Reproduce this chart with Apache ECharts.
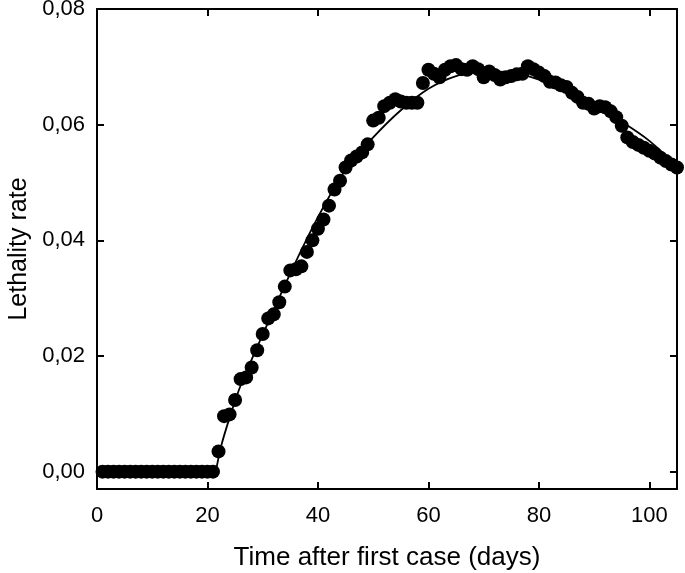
<!DOCTYPE html>
<html>
<head>
<meta charset="utf-8">
<script src="https://cdn.jsdelivr.net/npm/echarts@6/dist/echarts.min.js"></script>
<style>
html,body{margin:0;padding:0;background:#fff;}
#chart{width:685px;height:573px;}
</style>
</head>
<body>
<div id="chart"></div>
<script>
// Observed daily lethality rate (days 1..105)
const days = [];
for (let d = 1; d <= 105; d++) days.push(d);
const rates = [
  0,0,0,0,0,0,0,0,0,0,0,0,0,0,0,0,0,0,0,0,0,
  0.0035,0.0096,0.0099,0.0124,0.0160,0.0163,0.0180,0.0210,0.0238,
  0.0265,0.0272,0.0293,0.0320,0.0348,0.0350,0.0355,0.0380,0.0400,0.0420,
  0.0436,0.0460,0.0488,0.0503,0.0526,0.0538,0.0545,0.0552,0.0566,0.0607,
  0.0612,0.0632,0.0638,0.0644,0.0640,0.0638,0.0638,0.0638,0.0672,0.0695,
  0.0688,0.0682,0.0695,0.0701,0.0703,0.0696,0.0695,0.0701,0.0696,0.0682,
  0.0692,0.0686,0.0678,0.0682,0.0684,0.0687,0.0688,0.0701,0.0696,0.0690,
  0.0684,0.0674,0.0673,0.0668,0.0665,0.0655,0.0648,0.0638,0.0636,0.0628,
  0.0632,0.0630,0.0623,0.0613,0.0598,0.0578,0.0570,0.0565,0.0560,0.0555,
  0.0550,0.0543,0.0537,0.0531,0.0526
];
// Fitted curve
const fitDays   = [21.5, 22.5, 24, 26, 30, 35, 40, 45, 50, 55, 60, 65, 70, 75, 80, 85, 90, 95, 100, 105];
const fitValues = [0, 0.0045, 0.0093, 0.0149, 0.0237, 0.0343, 0.0440, 0.0522, 0.0578, 0.0625, 0.0662, 0.0684, 0.0692, 0.0690, 0.0678, 0.0658, 0.0633, 0.0605, 0.0572, 0.0528];
// Tick labels
const xTicks = [0, 20, 40, 60, 80, 100];
const yTicks = [0, 0.02, 0.04, 0.06, 0.08];

const FONT = 'Liberation Sans, Arial, sans-serif';
const lineStyle = {color: '#000', width: 2};
const chart = echarts.init(document.getElementById('chart'), null, {renderer: 'canvas'});
const baseX = {
  type: 'value', min: 0, max: 105,
  axisLine: {show: true, onZero: false, lineStyle},
  axisTick: {show: true, inside: true, length: 7, lineStyle, customValues: xTicks},
  splitLine: {show: false}
};
const baseY = {
  type: 'value', min: -0.003, max: 0.08,
  axisLine: {show: true, onZero: false, lineStyle},
  axisTick: {show: true, inside: true, length: 7, lineStyle, customValues: yTicks},
  splitLine: {show: false}
};
chart.setOption({
  animation: false,
  backgroundColor: '#fff',
  grid: {left: 97, right: 8, top: 9, bottom: 84, containLabel: false, outerBoundsMode: 'none'},
  xAxis: [
    Object.assign({}, baseX, {
      position: 'bottom',
      name: 'Time after first case (days)', nameLocation: 'middle', nameGap: 56,
      nameTextStyle: {fontFamily: FONT, fontSize: 26, color: '#000'},
      axisLabel: {show: true, customValues: xTicks, margin: 16, fontFamily: FONT, fontSize: 22, color: '#000'}
    }),
    Object.assign({}, baseX, {position: 'top', axisLabel: {show: false}})
  ],
  yAxis: [
    Object.assign({}, baseY, {
      position: 'left',
      name: 'Lethality rate', nameLocation: 'middle', nameGap: 64, nameRotate: 90,
      nameTextStyle: {fontFamily: FONT, fontSize: 25, color: '#000'},
      axisLabel: {show: true, customValues: yTicks, margin: 12, fontFamily: FONT, fontSize: 22, color: '#000',
        formatter: v => v.toFixed(2).replace('.', ',')}
    }),
    Object.assign({}, baseY, {position: 'right', axisLabel: {show: false}})
  ],
  series: [
    {
      type: 'line', xAxisIndex: 0, yAxisIndex: 0,
      data: fitDays.map((d, i) => [d, fitValues[i]]),
      smooth: 0.3, showSymbol: false, symbol: 'none',
      lineStyle: {color: '#000', width: 1.8}, z: 2
    },
    {
      type: 'scatter', xAxisIndex: 0, yAxisIndex: 0,
      data: days.map((d, i) => [d, rates[i]]),
      symbol: 'circle', symbolSize: 14,
      itemStyle: {color: '#000', opacity: 1}, z: 3
    }
  ]
});
</script>
</body>
</html>
